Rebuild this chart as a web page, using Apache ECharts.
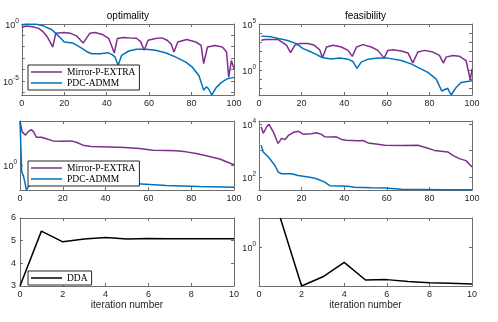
<!DOCTYPE html>
<html><head><meta charset="utf-8">
<script src="https://cdn.jsdelivr.net/npm/echarts@6/dist/echarts.min.js"></script>
<style>html,body{margin:0;padding:0;background:#fff}#c{width:498px;height:322px}</style>
</head><body><div id="c"></div>
<script>
// ---------- DATA ----------
// optimality (top-left)
const optMirrorIter = [0,2,5,8,10,12,14.6,16,20,23,26,28.9,32,34.5,38,41,43.6,45,48,51,54,56,57.7,59.5,63,66,68.5,70.5,71.7,73.5,77.7,82,84.5,85.7,87.5,91,94.5,96.5,97.5,98.8,100];
const optMirrorVal  = [0.50,0.66,0.58,0.41,0.21,0.074,9.5e-3,0.15,0.18,0.15,0.085,0.021,0.15,0.18,0.12,0.052,2.8e-3,0.052,0.065,0.06,0.056,0.028,4.8e-3,0.037,0.052,0.06,0.037,0.016,3.4e-3,0.026,0.043,0.026,0.013,3.2e-4,9.5e-3,0.013,9.5e-3,3.4e-3,2e-5,6.3e-4,1.1e-4];
const optPdcIter = [0,2,7,10,11.6,14,16,18.5,20,24,26,28.6,31,33,37,40.5,42.6,44,45.4,47,50.4,54,58.6,63,68,72.6,77.3,80.5,83.5,85.7,87,88,89.5,91.6,94,96.5,100];
const optPdcVal  = [0.81,1.0,0.93,0.71,0.5,0.33,0.15,0.052,0.026,0.021,0.013,6.7e-3,3.4e-3,2.4e-3,2.4e-3,3e-3,2e-3,1.2e-3,2.2e-4,1.7e-3,4.2e-3,5.9e-3,5.9e-3,4.8e-3,2.8e-3,1.2e-3,4.4e-4,1.5e-4,2.8e-5,1.5e-6,2.9e-6,2e-6,5.6e-7,2.5e-6,7e-6,1.4e-5,2e-5];
// feasibility (top-right)
const feaMirrorIter = [1,3,7,9,10.6,13,14.8,16.8,19,23,26,28.5,29.8,31.7,34.8,38.7,41.8,43.8,45.8,48.8,52.7,55.8,58.7,60.5,62.9,66.8,70,72.2,74.6,77.7,81.6,84.7,86.6,87.8,91,94,97.2,99.2,100];
const feaMirrorVal  = [1740,2040,2040,2000,1120,480,75,480,740,740,480,160,21,316,480,316,135,30,316,575,316,135,19.5,135,160,115,69,5.9,89,135,89,38,5.5,25,38,32,10.7,0.085,1.3];
const feaPdcIter = [1,5.9,9,13,17.6,20.7,24.6,27.8,30.1,34,37.9,41.8,44.1,46,48,51.2,55.8,60.5,66.8,71.4,74.6,79.3,83.2,85.8,88.6,90.2,92.5,94.9,100];
const feaPdcVal  = [4800,4000,2600,1740,740,210,89,38,21,16,19.5,15,8.3,1.5,7.1,15,19.5,19.5,10.7,4.6,1.95,0.55,0.1,5.2e-3,0.0102,1.9e-3,0.0123,0.044,0.066];
// middle-left
const mlMirrorIter = [0,1,1.7,2.6,3.7,5.3,6.4,7.6,10,12.3,15.4,19.3,24,26.3,29.4,33.3,41.9,48.9,55.9,62.1,68.4,73,77.7,82.4,87,93.3,100];
const mlMirrorVal  = [6.3,4.0,3.7,3.5,4.0,4.4,4.0,3.2,3.2,3.0,2.75,2.7,2.75,2.6,2.3,2.17,2.14,2.09,2.0,1.86,1.84,1.82,1.74,1.62,1.48,1.29,1.02];
const mlPdcIter = [0,0.8,1.7,3,3.9,6,20,40,55,68.4,84,100];
const mlPdcVal  = [6.3,0.76,0.62,0.355,0.41,0.45,0.46,0.46,0.46,0.43,0.41,0.40];
// middle-right
const mrMirrorIter = [1,2,3.6,4.7,5.6,6.7,8.3,9,10.6,12.2,13.7,16,18.4,20.7,24.6,27,29.3,30.9,34.8,36.3,38.7,41,46.5,48.8,51.2,55.8,59,66.8,74.6,78.5,82.4,88.6,91,94,97.2,100];
const mrMirrorVal  = [7900,4470,7900,9800,8700,5100,2450,1860,2880,2630,3630,4790,5370,4170,4270,4680,4070,3310,3240,3310,2630,2450,2340,2400,1950,1740,1580,1550,1580,1290,1020,890,660,500,420,240];
const mrPdcIter = [1,2,4.4,7.5,9,10.6,15.3,18.4,21.5,23.9,27,30.9,33.2,38.7,41.8,44.9,52.7,59,66.8,76.1,87,100];
const mrPdcVal  = [1580,890,575,275,155,135,135,115,107,100,87,65,48,47,46,42,40,39,35.5,34.7,33.9,33.9];
// bottom (DDA)
const ddaIter = [0,1,2,3,4,5,6,7,8,9,10];
const ddaOpt  = [3.0,5.42,4.95,5.07,5.14,5.07,5.1,5.09,5.09,5.08,5.08];
const ddaFeaIter = [1,2,3,4,5,6,7,8,9,10];
const ddaFea  = [3.8,0.163,0.25,0.486,0.215,0.219,0.2,0.19,0.185,0.179];
// tick label exponents shown
const expTL = [-5,0], expTR = [0,5], expML = [0], expMR = [2,4], expBR = [0];
const titles = ['optimality','feasibility'];
const xLabel = 'iteration number';
const names = ['Mirror-P-EXTRA','PDC-ADMM','DDA'];

// ---------- CHART ----------
const zip = (a,b) => a.map((v,i)=>[v,b[i]]);
const AX = '#262626';
const BOX = '#6e6e6e';
const SANS = 'Liberation Sans';
const SERIF = 'Liberation Serif';
function logFmt(exps){
  return function(v){
    const l = Math.log10(v), e = Math.round(l);
    if (Math.abs(l-e) > 1e-6 || exps.indexOf(e) < 0) return '';
    return '{b|10}{s|' + e + '}';
  };
}
const rich = {
  b:{fontSize:9, fontFamily:SANS, color:AX, verticalAlign:'bottom'},
  s:{fontSize:6.5, fontFamily:SANS, color:AX, verticalAlign:'bottom', padding:[0,0,5,0]}
};
const panels = [
  {grid:{left:20,top:24,width:214,height:71}, xmax:100, xint:20, ytype:'log', ymin:5.6e-7, ymax:1, exps:expTL, title:titles[0]},
  {grid:{left:259,top:24,width:213,height:71}, xmax:100, xint:20, ytype:'log', ymin:1.9e-3, ymax:1e5, exps:expTR, title:titles[1]},
  {grid:{left:20,top:121,width:214,height:69}, xmax:100, xint:20, ytype:'log', ymin:0.355, ymax:6.3, exps:expML},
  {grid:{left:259,top:121,width:213,height:69}, xmax:100, xint:20, ytype:'log', ymin:33, ymax:13000, exps:expMR},
  {grid:{left:20,top:218,width:214,height:68}, xmax:10, xint:2, ytype:'value', ymin:3, ymax:6, yint:1, xname:xLabel},
  {grid:{left:259,top:218,width:213,height:68}, xmax:10, xint:2, ytype:'log', ymin:0.163, ymax:3.8, exps:expBR, xname:xLabel}
];
const grids=[], xAxes=[], yAxes=[];
panels.forEach((p,i)=>{
  grids.push(Object.assign({show:false}, p.grid));
  const line = {show:true, onZero:false, lineStyle:{color:BOX, width:1}};
  const tick = {show:true, inside:true, length:3, lineStyle:{color:BOX, width:1}};
  xAxes.push({gridIndex:i, type:'value', position:'bottom', min:0, max:p.xmax, interval:p.xint,
    axisLine:line, axisTick:tick, splitLine:{show:false},
    axisLabel:{fontSize:9, fontFamily:SANS, color:AX, margin:4},
    name:p.xname||'', nameLocation:'middle', nameGap:14, nameTextStyle:{fontSize:10, fontFamily:SANS, color:AX}});
  xAxes.push({gridIndex:i, type:'value', position:'top', min:0, max:p.xmax, interval:p.xint,
    axisLine:line, axisTick:tick, splitLine:{show:false}, axisLabel:{show:false},
    name:p.title||'', nameLocation:'middle', nameGap:3, nameTextStyle:{fontSize:10, fontFamily:SANS, color:'#000'}});
  const ylab = p.ytype==='log'
    ? {fontSize:9, fontFamily:SANS, color:AX, margin:3, formatter:logFmt(p.exps), rich:rich}
    : {fontSize:9, fontFamily:SANS, color:AX, margin:4};
  const yb = {gridIndex:i, type:p.ytype, min:p.ymin, max:p.ymax, axisLine:line, axisTick:tick, splitLine:{show:false}};
  if (p.yint) yb.interval = p.yint;
  yAxes.push(Object.assign({position:'left', axisLabel:ylab}, yb));
  yAxes.push(Object.assign({position:'right', axisLabel:{show:false}}, yb));
});
const PURPLE = '#7E2F8E', BLUE = '#0072BD', BLACK = '#000000';
function ser(name, color, p, data){
  return {type:'line', name:name, xAxisIndex:2*p, yAxisIndex:2*p, data:data, symbol:'none',
    color:color, lineStyle:{color:color, width:1.5}, animation:false, z:2};
}
const series = [
  ser(names[0], PURPLE, 0, zip(optMirrorIter, optMirrorVal)),
  ser(names[1], BLUE, 0, zip(optPdcIter, optPdcVal)),
  ser(names[0], PURPLE, 1, zip(feaMirrorIter, feaMirrorVal)),
  ser(names[1], BLUE, 1, zip(feaPdcIter, feaPdcVal)),
  ser(names[0], PURPLE, 2, zip(mlMirrorIter, mlMirrorVal)),
  ser(names[1], BLUE, 2, zip(mlPdcIter, mlPdcVal)),
  ser(names[0], PURPLE, 3, zip(mrMirrorIter, mrMirrorVal)),
  ser(names[1], BLUE, 3, zip(mrPdcIter, mrPdcVal)),
  ser(names[2], BLACK, 4, zip(ddaIter, ddaOpt)),
  ser(names[2], BLACK, 5, zip(ddaFeaIter, ddaFea))
];
function leg(top, data){
  return {show:true, left:28, top:top, orient:'vertical', data:data, itemGap:1, itemWidth:31, itemHeight:10,
    icon:'path://M0,0H31V1.5H0Z', symbolKeepAspect:true,
    padding:[2,4,2,3], borderColor:AX, borderWidth:1, backgroundColor:'#fff', selectedMode:false,
    textStyle:{fontFamily:SERIF, fontSize:9.5, color:'#000'}, z:10};
}
const chart = echarts.init(document.getElementById('c'), null, {renderer:'canvas'});
chart.setOption({
  animation:false,
  backgroundColor:'#fff',
  grid:grids, xAxis:xAxes, yAxis:yAxes, series:series,
  legend:[leg(65,[names[0],names[1]]), leg(161,[names[0],names[1]]), leg(271,[names[2]])]
});
</script></body></html>
